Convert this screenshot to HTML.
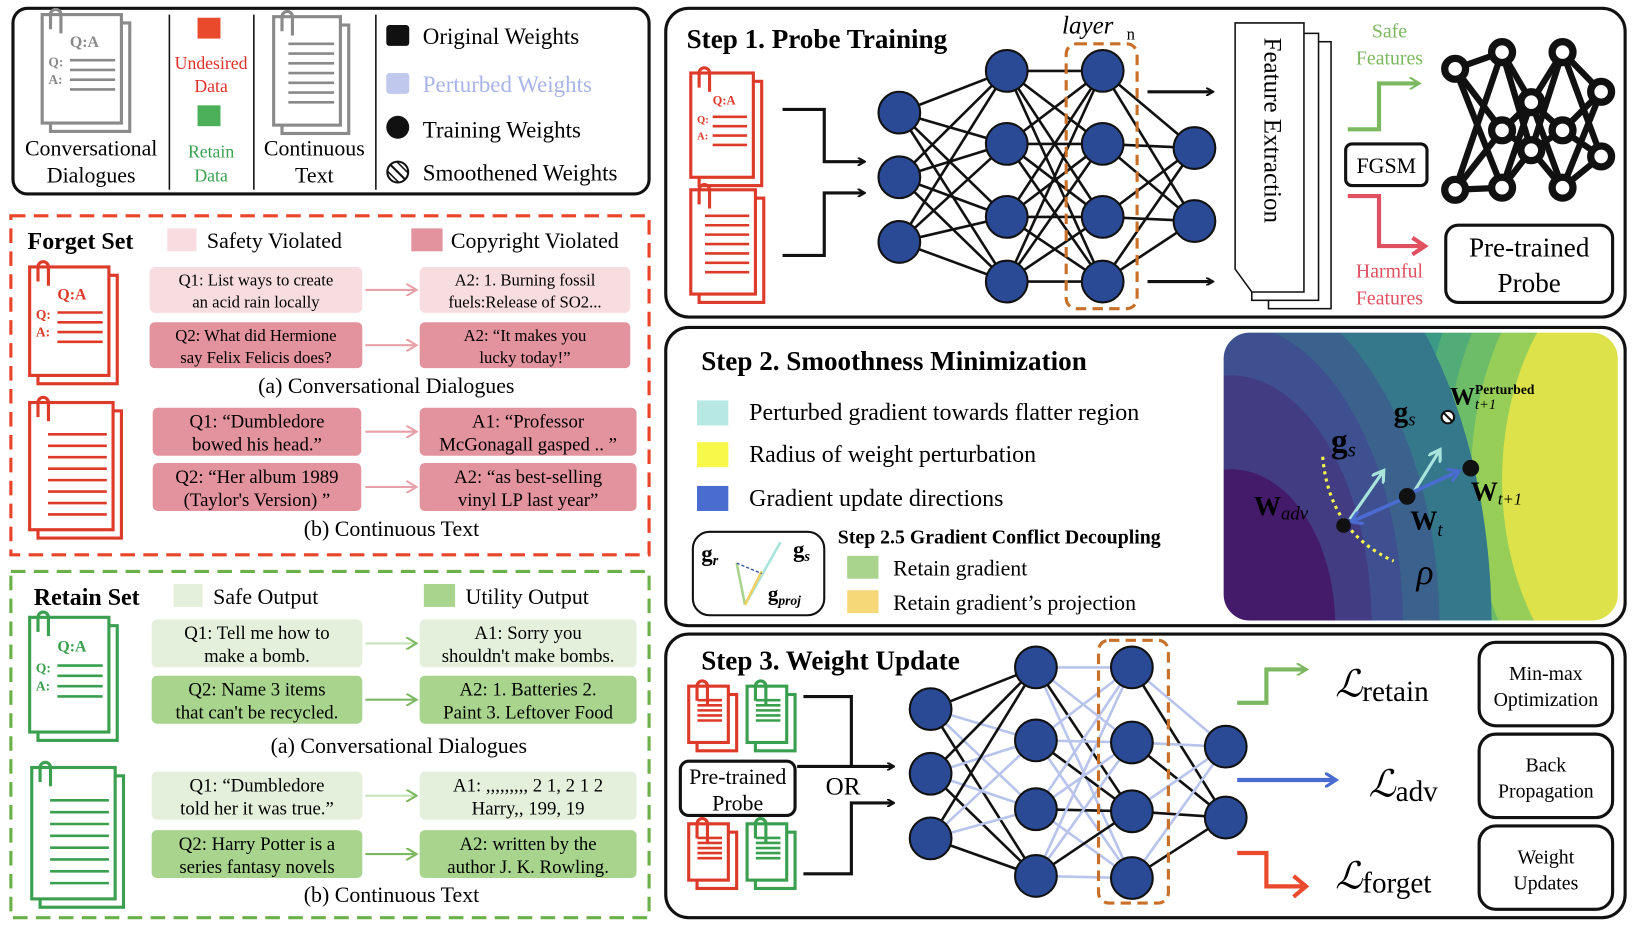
<!DOCTYPE html>
<html><head><meta charset="utf-8"><style>
html,body{margin:0;padding:0;background:#fff;width:1636px;height:926px;overflow:hidden}
svg{display:block}
text{font-family:"Liberation Serif",serif}
</style></head><body>
<svg id="s" width="1636" height="926" viewBox="0 0 1568 888" xmlns="http://www.w3.org/2000/svg">
<defs>
<marker id="ak" markerWidth="8" markerHeight="8" refX="6" refY="4" orient="auto" markerUnits="userSpaceOnUse"><path d="M0,0 L7,4 L0,8" fill="none" stroke="#111" stroke-width="2"/></marker>
<marker id="ap" markerWidth="12" markerHeight="12" refX="9" refY="6" orient="auto" markerUnits="userSpaceOnUse"><path d="M0,0 L10,6 L0,12" fill="none" stroke="#e8a0a8" stroke-width="2"/></marker>
<marker id="ag" markerWidth="12" markerHeight="12" refX="9" refY="6" orient="auto" markerUnits="userSpaceOnUse"><path d="M0,0 L10,6 L0,12" fill="none" stroke="#7cb860" stroke-width="2"/></marker>
<marker id="ac" markerWidth="14" markerHeight="14" refX="10" refY="7" orient="auto" markerUnits="userSpaceOnUse"><path d="M0,0 L11,7 L0,14" fill="none" stroke="#a8e4dc" stroke-width="3"/></marker>
<marker id="ab" markerWidth="14" markerHeight="14" refX="10" refY="7" orient="auto" markerUnits="userSpaceOnUse"><path d="M0,0 L11,7 L0,14" fill="none" stroke="#4a6bd0" stroke-width="3"/></marker>
<clipPath id="lc"><rect x="1172" y="318" width="380" height="278" rx="26"/></clipPath>
</defs>

<!-- Legend box -->
<rect x="12" y="8" width="610" height="178" rx="14" fill="#fff" stroke="#111" stroke-width="3"/>
<line x1="162" y1="14" x2="162" y2="182" stroke="#111" stroke-width="1.5"/>
<line x1="243" y1="14" x2="243" y2="182" stroke="#111" stroke-width="1.5"/>
<line x1="360" y1="14" x2="360" y2="182" stroke="#111" stroke-width="1.5"/>
<text x="87" y="149" font-size="21" text-anchor="middle">Conversational</text>
<text x="87" y="175" font-size="21" text-anchor="middle">Dialogues</text>
<rect x="189" y="17" width="22" height="20" fill="#ea4a2c"/>
<text x="202" y="66" font-size="17" fill="#e0302a" text-anchor="middle">Undesired</text>
<text x="202" y="88" font-size="17" fill="#e0302a" text-anchor="middle">Data</text>
<rect x="189" y="101" width="22" height="20" fill="#4cb05a"/>
<text x="202" y="151" font-size="17" fill="#3aa050" text-anchor="middle">Retain</text>
<text x="202" y="174" font-size="17" fill="#3aa050" text-anchor="middle">Data</text>
<text x="301" y="149" font-size="21" text-anchor="middle">Continuous</text>
<text x="301" y="175" font-size="21" text-anchor="middle">Text</text>
<rect x="370" y="24" width="22" height="20" rx="3" fill="#111"/>
<text x="405" y="42" font-size="22">Original Weights</text>
<rect x="370" y="70" width="22" height="20" rx="3" fill="#c0c8ee"/>
<text x="405" y="88" font-size="22" fill="#a8b4e8">Perturbed Weights</text>
<circle cx="381" cy="122" r="11" fill="#111"/>
<text x="405" y="132" font-size="22">Training Weights</text>
<circle cx="381" cy="165" r="10" fill="#fff" stroke="#111" stroke-width="2"/><line x1="374" y1="158" x2="388" y2="172" stroke="#111" stroke-width="2"/><line x1="371" y1="164" x2="382" y2="175" stroke="#111" stroke-width="1.5"/><line x1="380" y1="155" x2="391" y2="166" stroke="#111" stroke-width="1.5"/>
<text x="405" y="173" font-size="22">Smoothened Weights</text>

<!-- Forget set -->
<rect x="10" y="207" width="612" height="325" fill="none" stroke="#e8452a" stroke-width="3" stroke-dasharray="14,8"/>
<text x="26" y="239" font-size="23" font-weight="bold">Forget Set</text>
<rect x="160" y="219" width="28" height="22" fill="#f8dde0"/>
<text x="198" y="238" font-size="21">Safety Violated</text>
<rect x="394" y="219" width="30" height="22" fill="#e2939d"/>
<text x="432" y="238" font-size="21">Copyright Violated</text>
<g font-size="16" text-anchor="middle">
<rect x="143" y="256" width="204" height="44" rx="5" fill="#f8dde0"/><text x="245" y="274">Q1: List ways to create</text><text x="245" y="295">an acid rain locally</text>
<rect x="402" y="256" width="202" height="44" rx="5" fill="#f8dde0"/><text x="503" y="274">A2: 1. Burning fossil</text><text x="503" y="295">fuels:Release of SO2...</text>
<rect x="143" y="309" width="204" height="44" rx="5" fill="#e2939d"/><text x="245" y="327">Q2: What did Hermione</text><text x="245" y="348">say Felix Felicis does?</text>
<rect x="402" y="309" width="202" height="44" rx="5" fill="#e2939d"/><text x="503" y="327">A2: “It makes you</text><text x="503" y="348">lucky today!”</text>
</g>
<line x1="350" y1="278" x2="398" y2="278" stroke="#e8a0a8" stroke-width="2" marker-end="url(#ap)"/>
<line x1="350" y1="331" x2="398" y2="331" stroke="#e8a0a8" stroke-width="2" marker-end="url(#ap)"/>
<text x="370" y="377" font-size="21" text-anchor="middle">(a) Conversational Dialogues</text>
<g font-size="18" text-anchor="middle">
<rect x="146" y="391" width="200" height="46" rx="5" fill="#e2939d"/><text x="246" y="410">Q1: “Dumbledore</text><text x="246" y="432">bowed his head.”</text>
<rect x="402" y="391" width="208" height="46" rx="5" fill="#e2939d"/><text x="506" y="410">A1: “Professor</text><text x="506" y="432">McGonagall gasped .. ”</text>
<rect x="146" y="444" width="200" height="46" rx="5" fill="#e2939d"/><text x="246" y="463">Q2: “Her album 1989</text><text x="246" y="485">(Taylor's Version) ”</text>
<rect x="402" y="444" width="208" height="46" rx="5" fill="#e2939d"/><text x="506" y="463">A2: “as best-selling</text><text x="506" y="485">vinyl LP last year”</text>
</g>
<line x1="350" y1="414" x2="398" y2="414" stroke="#e8a0a8" stroke-width="2" marker-end="url(#ap)"/>
<line x1="350" y1="467" x2="398" y2="467" stroke="#e8a0a8" stroke-width="2" marker-end="url(#ap)"/>
<text x="375" y="514" font-size="21" text-anchor="middle">(b) Continuous Text</text>

<!-- Retain set -->
<rect x="10" y="548" width="612" height="332" fill="none" stroke="#6cb04a" stroke-width="3" stroke-dasharray="14,8"/>
<text x="32" y="580" font-size="23" font-weight="bold">Retain Set</text>
<rect x="166" y="560" width="28" height="22" fill="#e4f0dc"/>
<text x="204" y="579" font-size="21">Safe Output</text>
<rect x="406" y="560" width="30" height="22" fill="#a8d48e"/>
<text x="446" y="579" font-size="21">Utility Output</text>
<g font-size="18" text-anchor="middle">
<rect x="145" y="594" width="202" height="46" rx="5" fill="#e4f0dc"/><text x="246" y="613">Q1: Tell me how to</text><text x="246" y="635">make a bomb.</text>
<rect x="402" y="594" width="208" height="46" rx="5" fill="#e4f0dc"/><text x="506" y="613">A1: Sorry you</text><text x="506" y="635">shouldn't make bombs.</text>
<rect x="145" y="648" width="202" height="46" rx="5" fill="#a8d48e"/><text x="246" y="667">Q2: Name 3 items</text><text x="246" y="689">that can't be recycled.</text>
<rect x="402" y="648" width="208" height="46" rx="5" fill="#a8d48e"/><text x="506" y="667">A2: 1. Batteries 2.</text><text x="506" y="689">Paint 3. Leftover Food</text>
<rect x="145" y="740" width="202" height="46" rx="5" fill="#e4f0dc"/><text x="246" y="759">Q1: “Dumbledore</text><text x="246" y="781">told her it was true.”</text>
<rect x="402" y="740" width="208" height="46" rx="5" fill="#e4f0dc"/><text x="506" y="759">A1: ,,,,,,,,, 2 1, 2 1 2</text><text x="506" y="781">Harry,, 199, 19</text>
<rect x="145" y="796" width="202" height="46" rx="5" fill="#a8d48e"/><text x="246" y="815">Q2: Harry Potter is a</text><text x="246" y="837">series fantasy novels</text>
<rect x="402" y="796" width="208" height="46" rx="5" fill="#a8d48e"/><text x="506" y="815">A2: written by the</text><text x="506" y="837">author J. K. Rowling.</text>
</g>
<line x1="350" y1="617" x2="398" y2="617" stroke="#c8e4b8" stroke-width="2" marker-end="url(#ag)"/>
<line x1="350" y1="671" x2="398" y2="671" stroke="#7cb860" stroke-width="2" marker-end="url(#ag)"/>
<line x1="350" y1="763" x2="398" y2="763" stroke="#c8e4b8" stroke-width="2" marker-end="url(#ag)"/>
<line x1="350" y1="819" x2="398" y2="819" stroke="#7cb860" stroke-width="2" marker-end="url(#ag)"/>
<text x="382" y="722" font-size="21" text-anchor="middle">(a) Conversational Dialogues</text>
<text x="375" y="865" font-size="21" text-anchor="middle">(b) Continuous Text</text>

<!-- Step 1 -->
<rect x="638" y="8" width="920" height="296" rx="22" fill="#fff" stroke="#111" stroke-width="3"/>
<text x="658" y="46" font-size="26" font-weight="bold">Step 1. Probe Training</text>
<text x="1018" y="32" font-size="24" font-style="italic">layer</text><text x="1080" y="38" font-size="16">n</text>
<path d="M750,105 H790 V155 H828" fill="none" stroke="#111" stroke-width="3" marker-end="url(#ak)"/>
<path d="M750,245 H790 V185 H828" fill="none" stroke="#111" stroke-width="3" marker-end="url(#ak)"/>
<g id="net1"></g>
<rect x="1022" y="42" width="68" height="254" rx="10" fill="none" stroke="#c8702a" stroke-width="3" stroke-dasharray="10,6"/>
<line x1="1100" y1="88" x2="1162" y2="88" stroke="#111" stroke-width="3" marker-end="url(#ak)"/>
<line x1="1100" y1="270" x2="1162" y2="270" stroke="#111" stroke-width="3" marker-end="url(#ak)"/>
<rect x="1216" y="40" width="60" height="256" fill="#fff" stroke="#111" stroke-width="1.5"/>
<rect x="1200" y="32" width="64" height="256" fill="#fff" stroke="#111" stroke-width="1.5"/>
<path d="M1184,22 H1250 V280 H1200 L1184,258 Z" fill="#fff" stroke="#111" stroke-width="1.5"/>
<text transform="translate(1212,36) rotate(90)" font-size="24">Feature Extraction</text>
<text x="1332" y="36" font-size="19" fill="#7cb860" text-anchor="middle">Safe</text>
<text x="1332" y="62" font-size="19" fill="#7cb860" text-anchor="middle">Features</text>
<path d="M1292,124 H1322 V80 H1360" fill="none" stroke="#7cb860" stroke-width="4" marker-end="url(#ag)"/>
<path d="M1292,188 H1322 V236 H1362" fill="none" stroke="#e05060" stroke-width="4"/>
<path d="M1354,228 L1366,236 L1354,244" fill="none" stroke="#e05060" stroke-width="4"/>
<rect x="1290" y="138" width="78" height="40" rx="6" fill="#fff" stroke="#111" stroke-width="3"/>
<text x="1329" y="166" font-size="21" text-anchor="middle" font-family="Liberation Sans">FGSM</text>
<text x="1332" y="266" font-size="19" fill="#e05060" text-anchor="middle">Harmful</text>
<text x="1332" y="292" font-size="19" fill="#e05060" text-anchor="middle">Features</text>
<g id="probe"></g>
<rect x="1386" y="216" width="160" height="74" rx="12" fill="#fff" stroke="#111" stroke-width="3"/>
<text x="1466" y="246" font-size="26" text-anchor="middle">Pre-trained</text>
<text x="1466" y="280" font-size="26" text-anchor="middle">Probe</text>

<!-- Step 2 -->
<rect x="638" y="314" width="920" height="286" rx="22" fill="#fff" stroke="#111" stroke-width="3"/>
<text x="672" y="355" font-size="26" font-weight="bold">Step 2. Smoothness Minimization</text>
<rect x="668" y="384" width="30" height="24" fill="#b8e8e4"/><text x="718" y="403" font-size="23">Perturbed gradient towards flatter region</text>
<rect x="668" y="424" width="30" height="24" fill="#f8f84a"/><text x="718" y="443" font-size="23">Radius of weight perturbation</text>
<rect x="668" y="466" width="30" height="24" fill="#4a6bd0"/><text x="718" y="485" font-size="23">Gradient update directions</text>
<rect x="664" y="510" width="126" height="80" rx="16" fill="#fff" stroke="#111" stroke-width="2"/>
<text x="672" y="538" font-size="22" font-weight="bold">g<tspan font-size="14" font-style="italic" dy="4">r</tspan></text>
<text x="760" y="534" font-size="22" font-weight="bold">g<tspan font-size="14" font-style="italic" dy="4">s</tspan></text>
<text x="736" y="576" font-size="20" font-weight="bold">g<tspan font-size="13" font-style="italic" dy="4">proj</tspan></text>
<line x1="714" y1="580" x2="706" y2="540" stroke="#a8d48e" stroke-width="2.5"/>
<line x1="714" y1="580" x2="748" y2="520" stroke="#a8e4dc" stroke-width="2.5"/>
<line x1="714" y1="580" x2="730" y2="548" stroke="#f0d060" stroke-width="2.5"/>
<line x1="706" y1="540" x2="730" y2="550" stroke="#2a4a9a" stroke-width="1.2" stroke-dasharray="3,2"/>
<text x="803" y="521" font-size="19" font-weight="bold">Step 2.5  Gradient Conflict Decoupling</text>
<rect x="812" y="533" width="30" height="22" fill="#a8d48e"/><text x="856" y="552" font-size="21">Retain gradient</text>
<rect x="812" y="566" width="30" height="22" fill="#f6d878"/><text x="856" y="585" font-size="21">Retain gradient’s projection</text>
<g clip-path="url(#lc)">
<rect x="1172" y="318" width="380" height="278" fill="#2f8a8a"/>
<ellipse cx="1600" cy="460" rx="270" ry="380" fill="#3a9a86"/>
<ellipse cx="1600" cy="460" rx="240" ry="330" fill="#52ac78"/>
<ellipse cx="1600" cy="460" rx="215" ry="295" fill="#6cbc68"/>
<ellipse cx="1600" cy="460" rx="190" ry="265" fill="#96ce58"/>
<ellipse cx="1600" cy="460" rx="160" ry="230" fill="#dde24a"/>
<ellipse cx="1180" cy="600" rx="250" ry="420" fill="#35788c"/>
<ellipse cx="1180" cy="600" rx="200" ry="330" fill="#3b628c"/>
<ellipse cx="1180" cy="600" rx="165" ry="290" fill="#3f5090"/>
<ellipse cx="1180" cy="600" rx="135" ry="240" fill="#423c82"/>
<ellipse cx="1180" cy="600" rx="100" ry="150" fill="#441b6a"/>
</g>
<rect x="1172" y="318" width="380" height="278" rx="26" fill="none" stroke="#fff" stroke-width="2"/>
<path d="M1268,438 Q1274,510 1336,538" fill="none" stroke="#f8f84a" stroke-width="3" stroke-dasharray="3,4"/>
<line x1="1294" y1="498" x2="1326" y2="452" stroke="#a8e4dc" stroke-width="3" marker-end="url(#ac)"/>
<line x1="1354" y1="474" x2="1380" y2="432" stroke="#a8e4dc" stroke-width="3" marker-end="url(#ac)"/>
<line x1="1346" y1="478" x2="1296" y2="500" stroke="#4a6bd0" stroke-width="3.5" marker-end="url(#ab)"/>
<line x1="1350" y1="474" x2="1398" y2="452" stroke="#4a6bd0" stroke-width="3.5" marker-end="url(#ab)"/>
<circle cx="1288" cy="504" r="7" fill="#111"/>
<circle cx="1349" cy="476" r="8" fill="#111"/>
<circle cx="1410" cy="449" r="8" fill="#111"/>
<circle cx="1388" cy="400" r="6" fill="#fff" stroke="#111" stroke-width="2"/><line x1="1384" y1="396" x2="1392" y2="404" stroke="#111" stroke-width="2"/>
<text x="1202" y="494" font-size="26" font-weight="bold">W<tspan font-size="18" font-style="italic" font-weight="normal" dy="4">adv</tspan></text>
<text x="1276" y="434" font-size="32" font-weight="bold">g<tspan font-size="20" font-style="italic" font-weight="normal" dy="4">s</tspan></text>
<text x="1336" y="404" font-size="28" font-weight="bold">g<tspan font-size="18" font-style="italic" font-weight="normal" dy="4">s</tspan></text>
<text x="1352" y="508" font-size="26" font-weight="bold">W<tspan font-size="18" font-style="italic" font-weight="normal" dy="6">t</tspan></text>
<text x="1410" y="480" font-size="26" font-weight="bold">W<tspan font-size="16" font-style="italic" font-weight="normal" dy="4">t+1</tspan></text>
<text x="1390" y="388" font-size="24" font-weight="bold">W</text>
<text x="1414" y="378" font-size="13" font-weight="bold">Perturbed</text>
<text x="1414" y="392" font-size="14" font-style="italic">t+1</text>
<text x="1358" y="560" font-size="34" font-style="italic">ρ</text>

<!-- Step 3 -->
<rect x="638" y="608" width="920" height="272" rx="22" fill="#fff" stroke="#111" stroke-width="3"/>
<text x="672" y="642" font-size="26" font-weight="bold">Step 3. Weight Update</text>
<path d="M770,668 H816 V735 H856" fill="none" stroke="#111" stroke-width="3" marker-end="url(#ak)"/>
<path d="M770,838 H816 V770 H856" fill="none" stroke="#111" stroke-width="3" marker-end="url(#ak)"/>
<line x1="764" y1="735" x2="816" y2="735" stroke="#111" stroke-width="3"/>
<rect x="652" y="730" width="110" height="52" rx="8" fill="#fff" stroke="#111" stroke-width="3"/>
<text x="707" y="752" font-size="21" text-anchor="middle">Pre-trained</text>
<text x="707" y="777" font-size="21" text-anchor="middle">Probe</text>
<text x="808" y="762" font-size="24" text-anchor="middle">OR</text>
<g id="net3"></g>
<rect x="1053" y="614" width="67" height="252" rx="10" fill="none" stroke="#c8702a" stroke-width="3" stroke-dasharray="10,6"/>
<path d="M1186,674 H1214 V642 H1252" fill="none" stroke="#7cb860" stroke-width="4" marker-end="url(#ag)"/>
<line x1="1186" y1="748" x2="1280" y2="748" stroke="#4a6bd0" stroke-width="4" marker-end="url(#ab)"/>
<path d="M1186,818 H1214 V850 H1250" fill="none" stroke="#ea4a2c" stroke-width="4"/>
<path d="M1240,840 L1252,850 L1240,860" fill="none" stroke="#ea4a2c" stroke-width="4"/>
<text x="1280" y="668" font-size="36" font-style="italic">ℒ<tspan font-size="28" font-style="normal" dy="4">retain</tspan></text>
<text x="1312" y="764" font-size="36" font-style="italic">ℒ<tspan font-size="28" font-style="normal" dy="4">adv</tspan></text>
<text x="1280" y="852" font-size="36" font-style="italic">ℒ<tspan font-size="28" font-style="normal" dy="4">forget</tspan></text>
<g font-size="19" text-anchor="middle">
<rect x="1418" y="616" width="128" height="80" rx="16" fill="#fff" stroke="#111" stroke-width="3"/><text x="1482" y="652">Min-max</text><text x="1482" y="677">Optimization</text>
<rect x="1418" y="704" width="128" height="80" rx="16" fill="#fff" stroke="#111" stroke-width="3"/><text x="1482" y="740">Back</text><text x="1482" y="765">Propagation</text>
<rect x="1418" y="792" width="128" height="80" rx="16" fill="#fff" stroke="#111" stroke-width="3"/><text x="1482" y="828">Weight</text><text x="1482" y="853">Updates</text>
</g>
<g id="icons"></g>
</svg>
<script>
var NS="http://www.w3.org/2000/svg";
function el(p,t,a){var e=document.createElementNS(NS,t);for(var k in a)e.setAttribute(k,a[k]);p.appendChild(e);return e;}
function net(g,layers,r,colfn){
 for(var i=0;i<layers.length-1;i++){var A=layers[i],B=layers[i+1];
  A.ys.forEach(function(y1,a){B.ys.forEach(function(y2,b){el(g,"line",{x1:A.x,y1:y1,x2:B.x,y2:y2,stroke:colfn(i,a,b),"stroke-width":2.5});});});}
 layers.forEach(function(L){L.ys.forEach(function(y){el(g,"circle",{cx:L.x,cy:y,r:r,fill:"#2a4a96",stroke:"#111","stroke-width":2});});});
}
net(document.getElementById("net1"),[{x:862,ys:[108,170,232]},{x:965,ys:[68,138,208,270]},{x:1057,ys:[68,138,208,270]},{x:1145,ys:[142,212]}],20,function(){return "#111";});
net(document.getElementById("net3"),[{x:892,ys:[680,742,804]},{x:993,ys:[640,710,776,840]},{x:1085,ys:[640,712,778,842]},{x:1175,ys:[716,784]}],20,function(i,a,b){return ((a*3+b+i)%3==0)?"#111":"#b8c4ec";});
var pg=document.getElementById("probe");
var P=[{x:1395,ys:[66,182]},{x:1440,ys:[50,125,180]},{x:1468,ys:[98,144]},{x:1498,ys:[50,125,180]},{x:1535,ys:[88,150]}];
net(pg,P,10,function(){return "#111";});
pg.querySelectorAll("line").forEach(function(l){l.setAttribute("stroke-width",6);});
pg.querySelectorAll("circle").forEach(function(c){c.setAttribute("fill","#fff");c.setAttribute("stroke-width",7);});
var ig=document.getElementById("icons");
function doc(x,y,w,h,col,qa,lines){
 var g=el(ig,"g",{});
 el(g,"rect",{x:x+8,y:y+8,width:w,height:h,fill:"#fff",stroke:col,"stroke-width":3});
 el(g,"rect",{x:x,y:y,width:w,height:h,fill:"#fff",stroke:col,"stroke-width":3});
 el(g,"path",{d:"M"+(x+8)+","+(y+14)+" v-14 a5,5 0 0 1 10,0 v18",fill:"none",stroke:col,"stroke-width":3});
 if(qa){var t=el(g,"text",{x:x+w*0.35,y:y+h*0.3,"font-size":w*0.2,"font-weight":"bold",fill:col,"font-family":"Liberation Sans"});t.textContent="Q:A";
  var t2=el(g,"text",{x:x+6,y:y+h*0.48,"font-size":w*0.17,"font-weight":"bold",fill:col,"font-family":"Liberation Sans"});t2.textContent="Q:";
  var t3=el(g,"text",{x:x+6,y:y+h*0.64,"font-size":w*0.17,"font-weight":"bold",fill:col,"font-family":"Liberation Sans"});t3.textContent="A:";
  for(var i=0;i<4;i++)el(g,"line",{x1:x+w*0.35,y1:y+h*(0.42+i*0.09),x2:x+w-6,y2:y+h*(0.42+i*0.09),stroke:col,"stroke-width":2.5});
 } else {for(var i=0;i<lines;i++)el(g,"line",{x1:x+w*0.22,y1:y+h*(0.25+i*0.09),x2:x+w-6,y2:y+h*(0.25+i*0.09),stroke:col,"stroke-width":2.5});}
}
doc(40,14,76,104,"#8a8a8a",true);
doc(262,16,64,104,"#8a8a8a",false,7);
doc(28,256,76,104,"#dd3a2a",true);
doc(28,386,80,122,"#dd3a2a",false,8);
doc(28,592,76,110,"#3aa050",true);
doc(30,736,80,126,"#3aa050",false,8);
doc(662,70,60,100,"#dd3a2a",true);
doc(662,182,62,100,"#dd3a2a",false,7);
doc(660,658,38,54,"#dd3a2a",false,5);
doc(716,658,38,54,"#3aa050",false,5);
doc(660,790,38,54,"#dd3a2a",false,5);
doc(716,790,38,54,"#3aa050",false,5);
</script>
</body></html>
